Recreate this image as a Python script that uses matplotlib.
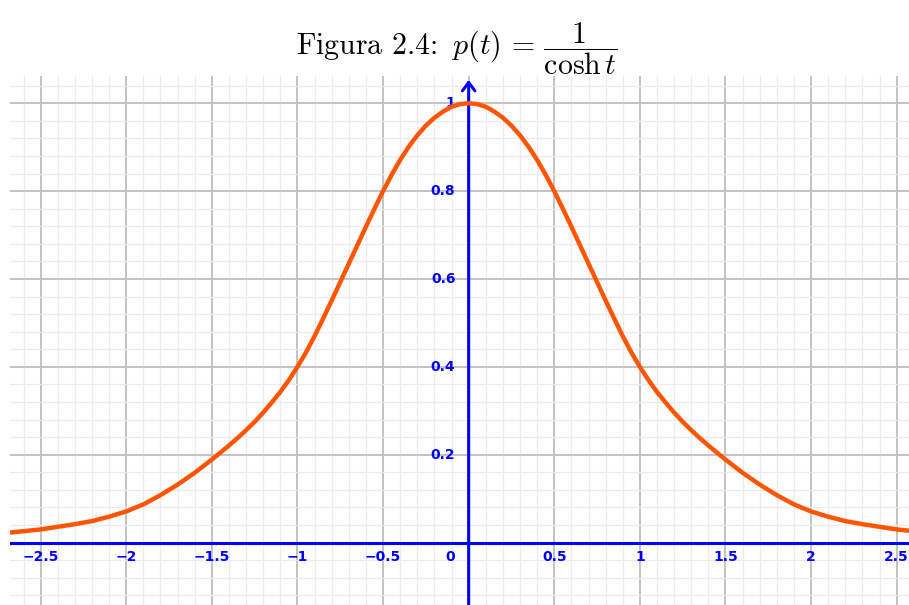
import matplotlib.pyplot as plt
from matplotlib.ticker import MultipleLocator

plt.rcParams['mathtext.fontset'] = 'cm'

# sampled curve: 0.05 steps through the bend, 0.1 steps in the tails
t_vals = [-2.7, -2.6, -2.5, -2.4, -2.3, -2.2, -2.1, -2.0, -1.9, -1.8,
          -1.7, -1.6, -1.5, -1.45, -1.4, -1.35, -1.3, -1.25, -1.2, -1.15,
          -1.1, -1.05, -1.0, -0.95, -0.9, -0.85, -0.8, -0.75, -0.7, -0.65,
          -0.6, -0.55, -0.5, -0.45, -0.4, -0.35, -0.3, -0.25, -0.2, -0.15,
          -0.1, -0.05, 0.0, 0.05, 0.1, 0.15, 0.2, 0.25, 0.3, 0.35,
          0.4, 0.45, 0.5, 0.55, 0.6, 0.65, 0.7, 0.75, 0.8, 0.85,
          0.9, 0.95, 1.0, 1.05, 1.1, 1.15, 1.2, 1.25, 1.3, 1.35,
          1.4, 1.45, 1.5, 1.6, 1.7, 1.8, 1.9, 2.0, 2.1, 2.2,
          2.3, 2.4, 2.5, 2.6]
p_vals = [0.022, 0.026, 0.030, 0.036, 0.042, 0.049, 0.059, 0.071, 0.087, 0.108,
          0.132, 0.159, 0.189, 0.205, 0.221, 0.238, 0.256, 0.275, 0.296, 0.319,
          0.343, 0.370, 0.400, 0.433, 0.470, 0.510, 0.551, 0.593, 0.635, 0.677,
          0.719, 0.760, 0.800, 0.837, 0.871, 0.901, 0.927, 0.949, 0.967, 0.981,
          0.992, 0.998, 1.000, 0.998, 0.992, 0.981, 0.967, 0.949, 0.927, 0.901,
          0.871, 0.837, 0.800, 0.760, 0.719, 0.677, 0.635, 0.593, 0.551, 0.510,
          0.470, 0.433, 0.400, 0.370, 0.343, 0.319, 0.296, 0.275, 0.256, 0.238,
          0.221, 0.205, 0.189, 0.159, 0.132, 0.108, 0.087, 0.071, 0.059, 0.049,
          0.042, 0.036, 0.030, 0.026]

x_ticks = [-2.5, -2, -1.5, -1, -0.5, 0.5, 1, 1.5, 2, 2.5]
x_labels = ['\u22122.5', '\u22122', '\u22121.5', '\u22121', '\u22120.5',
            '0.5', '1', '1.5', '2', '2.5']
y_ticks = [0.2, 0.4, 0.6, 0.8, 1]
y_labels = ['0.2', '0.4', '0.6', '0.8', '1']

axis_blue = '#0000ff'
curve_color = '#ff5500'

fig = plt.figure(figsize=(9.09, 6.05), dpi=100)
ax = fig.add_axes([10 / 909, 0, 899 / 909, 529 / 605])
ax.set_xlim(-2.679, 2.572)
ax.set_ylim(-0.142, 1.062)

# graph-paper grid
ax.xaxis.set_major_locator(MultipleLocator(0.5))
ax.xaxis.set_minor_locator(MultipleLocator(0.1))
ax.yaxis.set_major_locator(MultipleLocator(0.2))
ax.yaxis.set_minor_locator(MultipleLocator(0.04))
ax.grid(which='minor', color='#ebebeb', lw=0.9, zorder=0)
ax.grid(which='major', color='#c2c2c2', lw=1.4, zorder=0)
ax.set_axisbelow(True)
ax.tick_params(which='both', length=0, labelbottom=False, labelleft=False)
for s in ax.spines.values():
    s.set_visible(False)

# axes through the origin
ax.axhline(0, color=axis_blue, lw=2.2, zorder=2)
ax.annotate('', xy=(0, 1.053), xytext=(0, -0.142),
            arrowprops=dict(arrowstyle='->,head_length=0.6,head_width=0.45',
                            lw=2.2, color=axis_blue, shrinkA=0, shrinkB=0),
            zorder=2)

lbl = dict(color=axis_blue, fontsize=10, fontweight='bold',
           family='DejaVu Sans', zorder=3)
for x, s in zip(x_ticks, x_labels):
    ax.annotate(s, xy=(x, 0), xytext=(0, -10.5), textcoords='offset points',
                ha='center', va='center', **lbl)
for y, s in zip(y_ticks, y_labels):
    ax.annotate(s, xy=(0, y), xytext=(-9.5, 0), textcoords='offset points',
                ha='right', va='center', **lbl)
ax.annotate('0', xy=(0, 0), xytext=(-9.5, -10.5), textcoords='offset points',
            ha='right', va='center', **lbl)

ax.plot(t_vals, p_vals, color=curve_color, lw=3.2, solid_capstyle='round',
        solid_joinstyle='round', zorder=4)

fig.text(0.503, 0.919,
         r'Figura 2.4: $\,p(t) \,=\, \dfrac{1}{\cosh t}$',
         family='cmr10', ha='center', va='center', fontsize=21.5)

fig.savefig('out.png', dpi=100)
